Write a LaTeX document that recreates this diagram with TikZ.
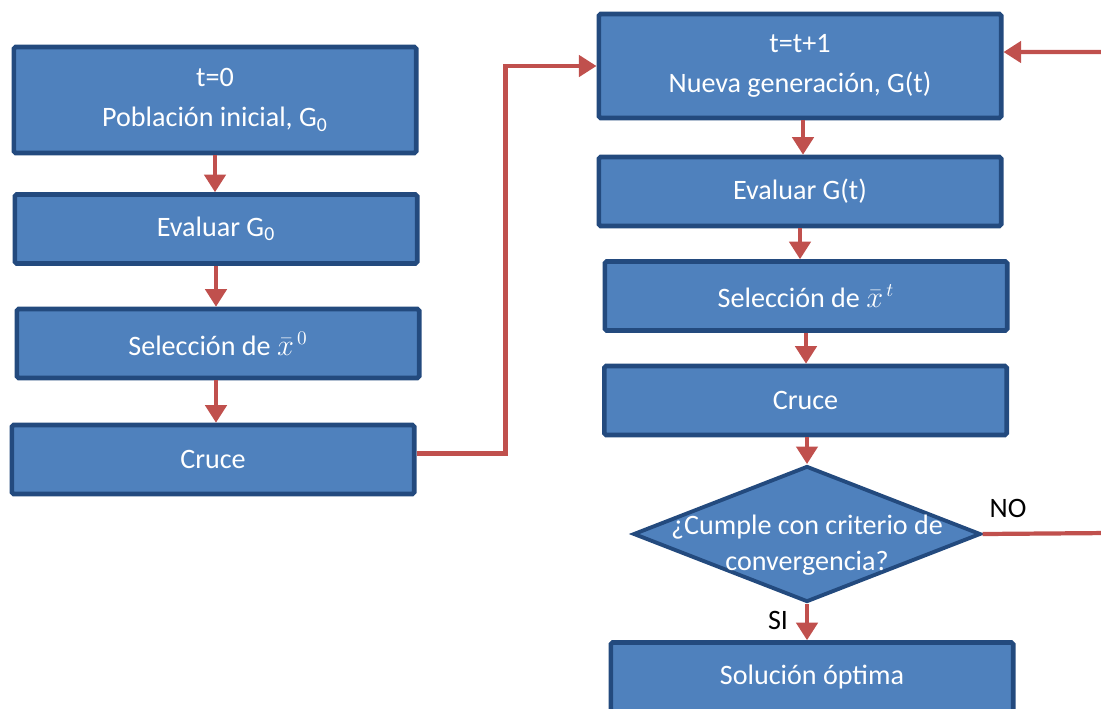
\documentclass[tikz,border=0pt]{standalone}
\usepackage{fontspec}
\setmainfont{Carlito}
\usetikzlibrary{arrows.meta,shapes.geometric}
\definecolor{boxfill}{HTML}{4F81BD}
\definecolor{boxline}{HTML}{234A7E}
\definecolor{arrowred}{HTML}{C0504D}

\begin{document}
\begin{tikzpicture}[x=0.02cm,y=-0.02cm,
    font=\fontsize{16}{23}\selectfont,
    paso/.style={draw=boxline,fill=boxfill,line width=2.6pt,rounded corners=1pt,
      text=white,align=center,minimum width=8.05cm,minimum height=1.38cm,inner sep=0pt},
    decision/.style={diamond,draw=boxline,fill=boxfill,line width=2.2pt,
      minimum width=6.95cm,minimum height=2.72cm,inner sep=0pt},
    flecha/.style={draw=arrowred,line width=2.4pt,-{Triangle[length=10pt,width=12pt]}}]
  \useasboundingbox (0,0) rectangle (1101,708);
  % columna izquierda
  \node[paso,minimum height=2.12cm] (ini) at (215,100) {t=0\\Población inicial, G\textsubscript{0}};
  \node[paso] (ev0) at (216,229) {Evaluar G\textsubscript{0}};
  \node[paso] (sel0) at (218,343.5) {Selección de $\bar{x}^{\,0}$};
  \node[paso] (cru0) at (213,459.5) {Cruce};
  % columna derecha
  \node[paso,minimum height=2.08cm] (gen) at (800,66) {t=t+1\\Nueva generación, G(t)};
  \node[paso] (evt) at (800,191.5) {Evaluar G(t)};
  \node[paso] (selt) at (806,296) {Selección de $\bar{x}^{\,t}$};
  \node[paso] (cru) at (805.5,400.5) {Cruce};
  \node[decision] (conv) at (807,534) {};
  \node[text=white,align=center,font=\fontsize{16}{20.5}\selectfont] (pregunta) at (807,545) {¿Cumple con criterio de\\convergencia?};
  \node[paso] (sol) at (812,677) {Solución óptima};
  \node (no) at (1008,508) {NO};
  \node (si) at (778,620) {SI};
  \coordinate (borde) at (1108,533);

  \draw[flecha] (ini.south) -- (ini.south |- ev0.north);
  \draw[flecha] (ev0.south) -- (ev0.south |- sel0.north);
  \draw[flecha] (ev0.south |- sel0.south) -- (ev0.south |- cru0.north);
  \draw[flecha] ([yshift=0.12cm]cru0.east) -| ++(89,0) |- (gen.west);
  \draw[flecha] ([xshift=0.06cm]gen.south) -- ([xshift=0.06cm]gen.south |- evt.north);
  \draw[flecha] (evt.south) -- (evt.south |- selt.north);
  \draw[flecha] (selt.south) -- (selt.south |- cru.north);
  \draw[flecha] (cru.south -| conv.north) -- (conv.north);
  \draw[flecha] (conv.south) -- (conv.south |- sol.north);
  \draw[flecha] (conv.east) -- (borde) |- ([yshift=0.28cm]gen.east);
\end{tikzpicture}
\end{document}
